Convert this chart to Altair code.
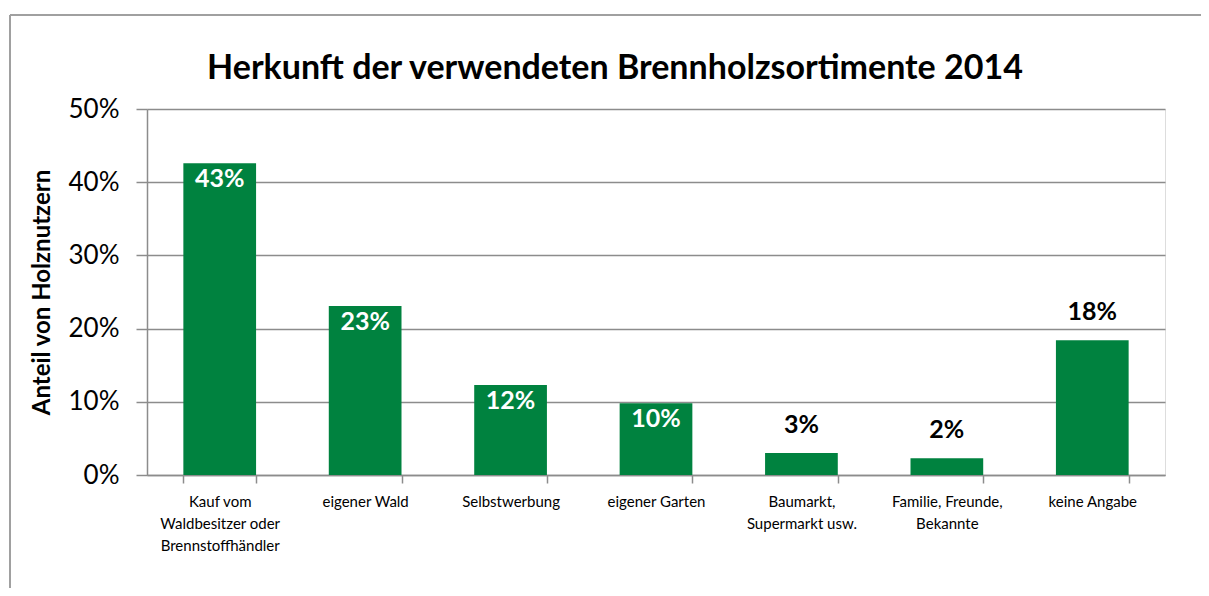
import altair as alt
import pandas as pd

categories = [
    "Kauf vom|Waldbesitzer oder|Brennstoffhändler",
    "eigener Wald",
    "Selbstwerbung",
    "eigener Garten",
    "Baumarkt,|Supermarkt usw.",
    "Familie, Freunde,|Bekannte",
    "keine Angabe",
]
values = [0.426, 0.231, 0.123, 0.098, 0.030, 0.023, 0.184]
labels = ["43%", "23%", "12%", "10%", "3%", "2%", "18%"]
inside_categories = categories[:4]
y_ticks = [0, 0.1, 0.2, 0.3, 0.4, 0.5]

df = pd.DataFrame({"cat": categories, "val": values, "lab": labels})

FONT = "Lato"
GREEN = "#00823F"
GRAY = "#8c8c8c"

x_enc = alt.X(
    "cat:N",
    sort=categories,
    title=None,
    scale=alt.Scale(paddingInner=0.5, paddingOuter=0.25),
    axis=alt.Axis(
        labelExpr="split(datum.label, '|')",
        labelAngle=0,
        labelFont=FONT,
        labelFontSize=15,
        labelColor="#000000",
        labelLineHeight=22,
        labelPadding=11,
        labelBaseline="top",
        tickBand="extent",
        tickSize=8,
        tickColor=GRAY,
        tickWidth=1.5,
        domainColor=GRAY,
        domainWidth=1.5,
        labelLimit=200,
    ),
)
y_enc = alt.Y(
    "val:Q",
    title="Anteil von Holznutzern",
    scale=alt.Scale(domain=[0, 0.5]),
    axis=alt.Axis(
        values=y_ticks,
        format=".0%",
        labelFont=FONT,
        labelFontSize=26,
        labelColor="#000000",
        labelPadding=17,
        tickSize=11,
        tickColor=GRAY,
        tickWidth=1.5,
        domainColor=GRAY,
        domainWidth=1.5,
        grid=True,
        gridColor=GRAY,
        gridWidth=1.5,
        titleFont=FONT,
        titleFontSize=24,
        titleFontWeight="bold",
        titleColor="#000000",
        titlePadding=14,
    ),
)

base = alt.Chart(df)

bars = base.mark_bar(color=GREEN).encode(x=x_enc, y=y_enc)

inside = base.transform_filter(
    alt.FieldOneOfPredicate(field="cat", oneOf=inside_categories)
).mark_text(
    font=FONT, fontSize=25, fontWeight="bold", color="white",
    baseline="middle", dy=16
).encode(x=alt.X("cat:N", sort=categories), y="val:Q", text="lab:N")

above = base.transform_filter(
    alt.FieldOneOfPredicate(field="cat", oneOf=categories[4:])
).mark_text(
    font=FONT, fontSize=25, fontWeight="bold", color="black",
    baseline="middle", dy=-28
).encode(x=alt.X("cat:N", sort=categories), y="val:Q", text="lab:N")

frame_left = alt.Chart(df).mark_rule(color="#a0a0a0", strokeWidth=2).encode(
    x=alt.value(-137), y=alt.value(-94), y2=alt.value(700)
)
frame_top = alt.Chart(df).mark_rule(color="#a0a0a0", strokeWidth=2).encode(
    x=alt.value(-137), x2=alt.value(1200), y=alt.value(-94)
)

chart = alt.layer(frame_left, frame_top, bars, inside, above).properties(
    width=1018,
    height=366,
    autosize=alt.AutoSizeParams(type="none"),
    padding={"left": 139, "top": 101, "right": 36, "bottom": 113},
    title=alt.TitleParams(
        "Herkunft der verwendeten Brennholzsortimente 2014",
        font=FONT, fontSize=34, fontWeight="bold", color="#000000",
        anchor="middle", dx=-41, offset=0, dy=99, baseline="alphabetic",
    ),
).configure_view(stroke=None).configure(background="white")

chart.save("out.html", embed_options={"renderer": "svg", "actions": False})
